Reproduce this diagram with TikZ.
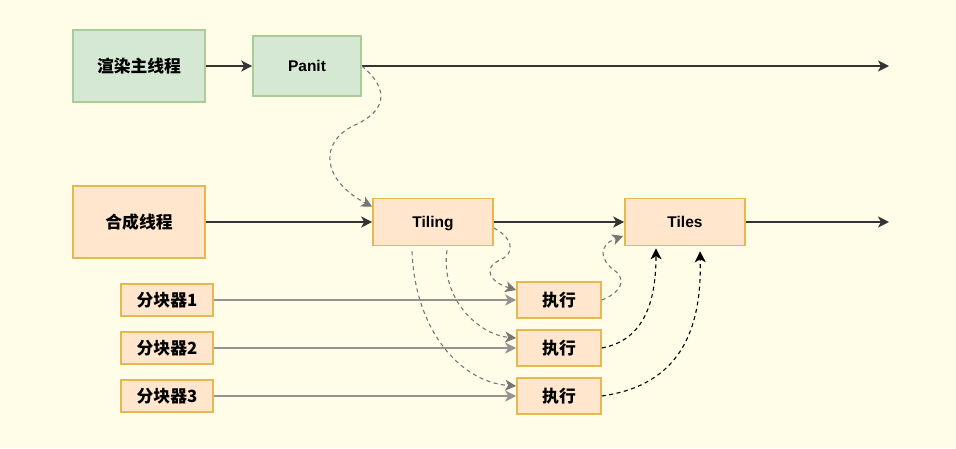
\documentclass[tikz,border=0pt]{standalone}
\usepackage{fontspec}
\setmainfont{Liberation Sans}
\newfontfamily\cjk{Noto Sans CJK SC}
\usetikzlibrary{arrows.meta,calc}
\definecolor{bgc}{HTML}{FFFDE7}
\definecolor{gfill}{HTML}{D5E8D4}
\definecolor{gline}{HTML}{A9CD96}
\definecolor{ofill}{HTML}{FFE6CC}
\definecolor{oline}{HTML}{E6B850}
\definecolor{graya}{HTML}{767676}
\definecolor{grayl}{HTML}{939393}
\tikzset{
  gbox/.style={draw=gline, fill=gfill, line width=1.6pt, inner sep=0pt, font=\cjk\bfseries\fontsize{16.8}{18}\selectfont},
  obox/.style={draw=oline, fill=ofill, line width=1.6pt, inner sep=0pt, font=\cjk\bfseries\fontsize{16.8}{18}\selectfont},
  latin/.style={font=\bfseries\fontsize{15.5}{18}\selectfont, text depth=0pt},
  tip/.style={-{Stealth[length=11pt,width=11pt,inset=3pt]}},
  solidarr/.style={tip, draw=black!80, line width=1.3pt},
  grayarr/.style={tip, draw=grayl, line width=1.4pt},
  graydash/.style={tip, draw=graya, line width=1.1pt, dash pattern=on 4pt off 3.5pt},
  blackdash/.style={tip, draw=black, line width=1.1pt, dash pattern=on 4pt off 3.5pt}
}
\begin{document}
\begin{tikzpicture}[x=1pt,y=-1pt]
\fill[bgc] (0,0) rectangle (956,448);
\useasboundingbox (0,0) rectangle (956,448);

\node[gbox, minimum width=132pt, minimum height=72pt] (main) at (139,66) {渲染主线程};
\node[gbox, latin, minimum width=108pt, minimum height=60pt] (panit) at (307,66) {Panit};
\node[obox, minimum width=132pt, minimum height=72pt] (comp) at (139,222) {合成线程};
\node[obox, latin, minimum width=120pt, minimum height=47pt] (tiling) at (433,222) {Tiling};
\node[obox, latin, minimum width=120pt, minimum height=47pt] (tiles) at (685,222) {Tiles};

\node[obox, minimum width=92pt, minimum height=32pt] (fk1) at (167,300) {分块器1};
\node[obox, minimum width=92pt, minimum height=32pt] (fk2) at (167,348) {分块器2};
\node[obox, minimum width=92pt, minimum height=32pt] (fk3) at (167,396) {分块器3};

\node[obox, minimum width=84pt, minimum height=36pt] (ex1) at (559,300) {执行};
\node[obox, minimum width=84pt, minimum height=36pt] (ex2) at (559,348) {执行};
\node[obox, minimum width=84pt, minimum height=36pt] (ex3) at (559,396) {执行};

\coordinate (endA) at (889,66);
\coordinate (endB) at (889,222);

\draw[solidarr] (main) -- (panit);
\draw[solidarr] (panit) -- (endA);
\draw[solidarr] (comp) -- (tiling);
\draw[solidarr] (tiling) -- (tiles);
\draw[solidarr] (tiles) -- (endB);

\draw[grayarr] (fk1) -- (ex1);
\draw[grayarr] (fk2) -- (ex2);
\draw[grayarr] (fk3) -- (ex3);

\draw[graydash] (panit.east) .. controls (385,85) and (392,108) .. (355,125)
  .. controls (318,142) and (322,180) .. ($(tiling.north west)+(0,9)$);
\draw[graydash] ($(tiling.east)+(0,6)$) .. controls (510,236) and (518,252) .. (500,260)
  .. controls (482,268) and (490,282) .. ($(ex1.west)+(0,-10)$);
\draw[graydash] ($(tiling.south)+(14,4)$) .. controls (440,300) and (480,335) .. ($(ex2.west)+(0,-10)$);
\draw[graydash] ($(tiling.south)+(-21,5)$) .. controls (415,330) and (460,382) .. ($(ex3.west)+(0,-10)$);
\draw[graydash] (ex1.east) .. controls (620,293) and (628,280) .. (614,270)
  .. controls (600,260) and (598,245) .. ($(tiles.west)+(-1,14)$);
\draw[blackdash] (ex2.east) .. controls (645,340) and (656,300) .. ($(tiles.south)+(-29,2)$);
\draw[blackdash] (ex3.east) .. controls (680,385) and (702,330) .. ($(tiles.south)+(15,5)$);
\end{tikzpicture}
\end{document}
